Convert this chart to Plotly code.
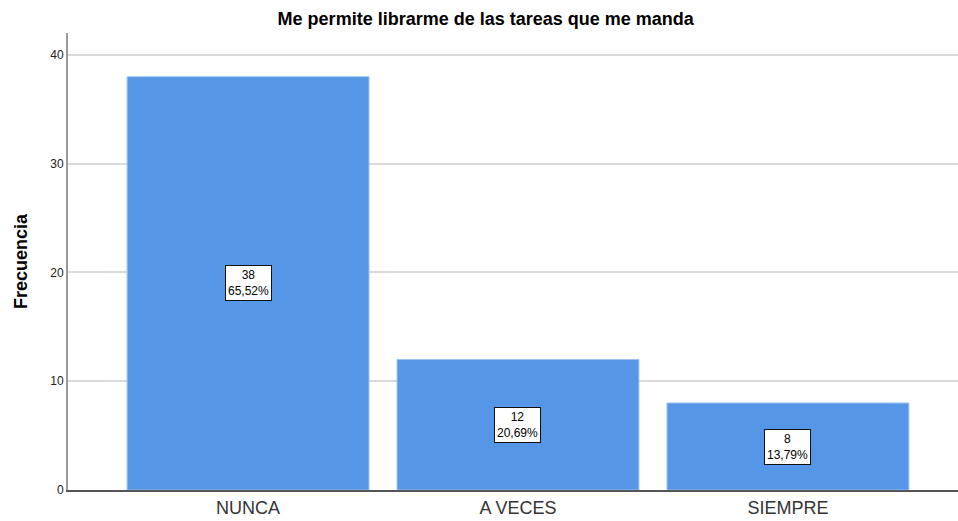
import plotly.graph_objects as go

categories = ["NUNCA", "A VECES", "SIEMPRE"]
counts = [38, 12, 8]
percent_labels = ["65,52%", "20,69%", "13,79%"]
y_ticks = [0, 10, 20, 30, 40]

title = "Me permite librarme de las tareas que me manda"
y_title = "Frecuencia"

x_idx = list(range(len(categories)))

fig = go.Figure()
fig.add_trace(go.Bar(
    x=x_idx, y=counts, width=0.896,
    marker=dict(color="#5596e6", line=dict(color="#9cc3f2", width=1)),
    hoverinfo="skip",
))

for i, (c, p) in enumerate(zip(counts, percent_labels)):
    fig.add_annotation(
        x=i, y=c / 2, text=f"{c}<br>{p}", showarrow=False,
        font=dict(family="Arial, Liberation Sans", size=12, color="black"),
        bgcolor="white", bordercolor="#111111", borderwidth=1, borderpad=2,
        align="center",
    )

fig.update_layout(
    width=958, height=521,
    margin=dict(l=68, r=0, t=33, b=31),
    plot_bgcolor="white", paper_bgcolor="white",
    showlegend=False,
    title=dict(text=f"<b>{title}</b>", x=0.507, xanchor="center", y=0.965, yanchor="middle",
               font=dict(family="Arial, Liberation Sans", size=18, color="black")),
    font=dict(family="Arial, Liberation Sans"),
)
fig.update_xaxes(
    range=[-0.667, 2.63], tickmode="array", tickvals=x_idx, ticktext=categories,
    showgrid=False, showline=True, linecolor="#555555", linewidth=2,
    tickfont=dict(size=18, color="#333333"), ticks="", zeroline=False,
    automargin=False,
)
fig.update_yaxes(
    range=[0, 42.02], tickmode="array", tickvals=y_ticks,
    showgrid=True, gridcolor="#dadada", gridwidth=2,
    showline=True, linecolor="#999999", linewidth=2,
    tickfont=dict(size=12, color="#222222"), ticks="", zeroline=False,
    automargin=False,
    title=dict(text=f"<b>{y_title}</b>", font=dict(size=18, color="black"), standoff=18),
)

fig.write_html("out.html", post_script="document.body.style.margin='0';",
               config={"displayModeBar": False})
